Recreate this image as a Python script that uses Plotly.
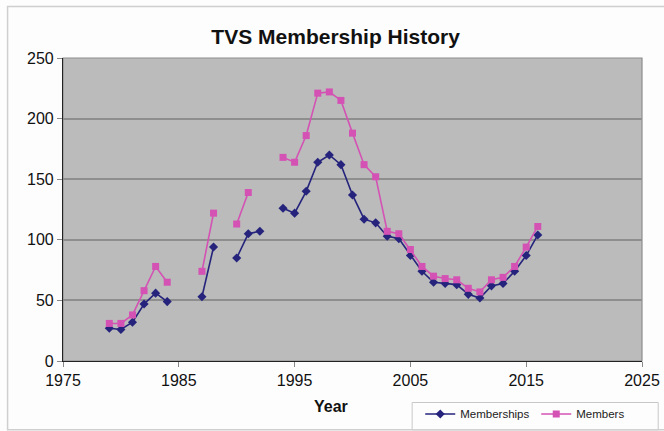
import plotly.graph_objects as go

years = list(range(1979, 2017))
memberships = [27, 26, 32, 47, 56, 49, None, None, 53, 94, None, 85, 105, 107, None,
               126, 122, 140, 164, 170, 162, 137, 117, 114, 103, 101, 87, 74, 65, 64,
               63, 55, 52, 62, 64, 74, 87, 104]
members = [31, 31, 38, 58, 78, 65, None, None, 74, 122, None, 113, 139, None, None,
           168, 164, 186, 221, 222, 215, 188, 162, 152, 107, 105, 92, 78, 70, 68,
           67, 60, 57, 67, 69, 78, 94, 111]

x_ticks = [1975, 1985, 1995, 2005, 2015, 2025]
y_ticks = [0, 50, 100, 150, 200, 250]

FONT = "Liberation Sans, Arial, sans-serif"

fig = go.Figure()
fig.add_trace(go.Scatter(
    x=years, y=memberships, name="Memberships", mode="lines+markers",
    connectgaps=False,
    line=dict(color="#25237c", width=1.6),
    marker=dict(symbol="diamond", size=7, color="#25237c"),
))
fig.add_trace(go.Scatter(
    x=years, y=members, name="Members", mode="lines+markers",
    connectgaps=False,
    line=dict(color="#d452b4", width=1.6),
    marker=dict(symbol="square", size=7, color="#d452b4"),
))

fig.update_layout(
    width=664, height=431,
    margin=dict(l=63, r=22, t=58, b=70, autoexpand=False),
    paper_bgcolor="#fdfdfd",
    plot_bgcolor="#babbba",
    font=dict(family=FONT, color="#111111"),
    title=dict(text="<b>TVS Membership History</b>", x=0.5055, xanchor="center",
               y=0.915, yanchor="middle", font=dict(size=21, family=FONT, color="#111111")),
    showlegend=True,
    legend=dict(orientation="h", x=0.617, xanchor="left", y=-0.127, yanchor="top",
                bgcolor="rgba(0,0,0,0)", borderwidth=0,
                font=dict(size=11.5, family=FONT, color="#222222"),
                itemwidth=30, tracegroupgap=0, entrywidth=71, entrywidthmode="pixels"),
    xaxis=dict(range=[1975, 2025], tickmode="array", tickvals=x_ticks,
               ticktext=[str(v) for v in x_ticks], automargin=False,
               showgrid=False, zeroline=False,
               showline=True, linecolor="#222222", linewidth=1.2,
               ticks="outside", ticklen=5, tickcolor="#888888",
               tickfont=dict(size=16, family=FONT, color="#111111")),
    yaxis=dict(range=[0, 250], tickmode="array", tickvals=y_ticks, automargin=False,
               showgrid=True, gridcolor="#8e8e8e", gridwidth=1.5, zeroline=False,
               showline=True, linecolor="#222222", linewidth=1.2,
               ticks="outside", ticklen=5, tickcolor="#888888",
               tickfont=dict(size=16, family=FONT, color="#111111")),
)

# x-axis title
fig.add_annotation(text="<b>Year</b>", xref="paper", yref="paper", x=0.4634, y=-0.151,
                   xanchor="center", yanchor="middle", showarrow=False,
                   font=dict(size=16, family=FONT, color="#111111"))

# plot-area border (top/right in gray)
fig.add_shape(type="rect", xref="paper", yref="paper", x0=0, x1=1, y0=0, y1=1,
              line=dict(color="#8e8e8e", width=1.2), layer="below")
# outer chart border
fig.add_shape(type="rect", xref="paper", yref="paper", x0=-0.0957, x1=1.2,
              y0=-0.227, y1=1.170, line=dict(color="#cfcfcf", width=1.5), layer="below")
# legend box
fig.add_shape(type="rect", xref="paper", yref="paper", x0=0.603, x1=1.028,
              y0=-0.227, y1=-0.137, line=dict(color="#c8c8c8", width=1),
              fillcolor="#fdfdfd", layer="below")

fig.write_html("out.html")
